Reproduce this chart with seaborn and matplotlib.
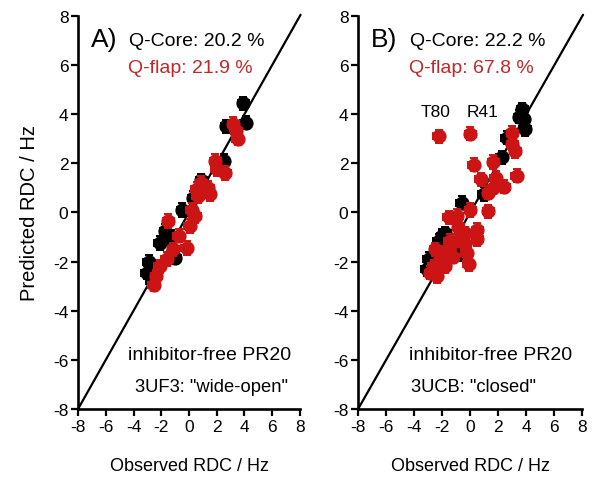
import matplotlib
matplotlib.use("Agg")
import matplotlib.pyplot as plt
import numpy as np
import seaborn as sns

# Panel A: 3UF3 "wide-open"
xA_core = [3.9, 4.1, 2.7, 2.5, 0.9, -0.5, -1.7, -2.1, -1.0, -2.9, -3.05, -2.7, 0.3, -1.3]
yA_core = [4.45, 3.65, 3.5, 2.1, 1.3, 0.1, -0.75, -1.25, -1.85, -2.0, -2.45, -2.8, 0.6, -1.0]
xA_flap = [3.2, 3.4, 3.5, 1.9, 2.0, 2.6, 0.55, 1.4, 0.65, 1.5, 0.2, 0.45, 0.05, -1.5,
           -0.75, -0.15, -1.15, -1.6, -2.1, -2.35, -2.55, 0.9]
yA_flap = [3.6, 3.3, 3.0, 2.1, 1.75, 1.6, 0.95, 1.0, 0.65, 0.75, 0.1, -0.15, -0.55, -0.35,
           -0.95, -1.45, -1.5, -1.9, -2.2, -2.6, -2.95, 1.2]

# Panel B: 3UCB "closed"
xB_core = [3.7, 3.8, 3.9, 2.6, 2.25, 0.95, -0.6, -2.0, -2.95, -3.1, -0.85, -1.8, -2.25, -2.85, 3.5]
yB_core = [4.2, 3.8, 3.4, 3.05, 2.25, 0.75, 0.4, -0.95, -1.9, -2.3, -1.7, -0.85, -1.15, -2.4, 3.9]
xB_flap = [-2.25, 0.0, 3.0, 3.0, 3.2, 3.3, 0.25, 1.65, 0.75, 1.8, 2.4, 1.65, 1.3, 0.0, 1.3,
           -1.55, -0.95, -0.85, -0.35, 0.5, 0.5, -1.45, -0.95, -2.5, -1.55, -0.25, -0.1,
           -2.6, -2.15, -1.8, -2.85, -2.4, -1.2, -1.8, -0.35]
yB_flap = [3.1, 3.2, 3.25, 2.8, 2.5, 1.5, 1.95, 2.05, 1.35, 1.4, 1.05, 1.0, 0.8, 0.1, 0.05,
           -0.2, -0.15, -0.6, -0.85, -0.7, -1.1, -1.15, -1.15, -1.5, -1.5, -1.65, -2.1,
           -2.2, -1.9, -1.85, -2.45, -2.6, -1.8, -2.2, -1.3]

panel_letters = ["A)", "B)"]
q_core = ["Q-Core: 20.2 %", "Q-Core: 22.2 %"]
q_flap = ["Q-flap: 21.9 %", "Q-flap: 67.8 %"]
state_text = ['3UF3: "wide-open"', '3UCB: "closed"']
outliers = [("T80", -2.5, 4.1), ("R41", 0.9, 4.1)]

ticks = [-8, -6, -4, -2, 0, 2, 4, 6, 8]
RED = "#cc1414"
TXT_RED = "#c0282a"

sns.set_style("ticks")
plt.rcParams["font.family"] = ["Liberation Sans", "DejaVu Sans"]
plt.rcParams["axes.unicode_minus"] = False
for k in ["text.color", "axes.labelcolor", "xtick.color", "ytick.color", "axes.edgecolor"]:
    plt.rcParams[k] = "black"

fig = plt.figure(figsize=(6.01, 4.85), dpi=100)
axA = fig.add_axes([0.130, 0.155, 0.369, 0.810])
axB = fig.add_axes([0.596, 0.155, 0.373, 0.810])

data = [(xA_core, yA_core, xA_flap, yA_flap), (xB_core, yB_core, xB_flap, yB_flap)]

for i, (ax, (xc, yc, xf, yf)) in enumerate(zip([axA, axB], data)):
    ax.plot([-8, 8.05], [-8, 8.05], color="black", lw=1.6, clip_on=False, zorder=1)
    for xs, ys, col, z in [(xc, yc, "black", 2), (xf, yf, RED, 4)]:
        ax.errorbar(xs, ys, xerr=0.4, yerr=0.27, fmt="none", ecolor=col,
                    elinewidth=1.4, capsize=3, capthick=1.4, zorder=z)
        sns.scatterplot(x=xs, y=ys, ax=ax, color=col, s=105, linewidth=0,
                        zorder=z + 1, legend=False)

    ax.set_xlim(-8, 8)
    ax.set_ylim(-8, 8)
    ax.set_xticks(ticks)
    ax.set_yticks(ticks)
    ax.tick_params(direction="out", length=5, width=1.6, labelsize=12.5, pad=2)
    for s in ["left", "bottom"]:
        ax.spines[s].set_linewidth(1.9)
    sns.despine(ax=ax)

    ax.text(-7.1, 7.05, panel_letters[i], fontsize=19, ha="left", va="center")
    ax.text(-4.3, 7.0, q_core[i], fontsize=14, ha="left", va="center")
    ax.text(-4.4, 5.9, q_flap[i], fontsize=14, ha="left", va="center", color=TXT_RED)
    ax.text(-4.4, -5.8, "inhibitor-free PR20", fontsize=14, ha="left", va="center")
    ax.text(-3.9 if i == 0 else -4.2, -7.1, state_text[i], fontsize=13.2,
            ha="left", va="center")
    ax.set_xlabel("Observed RDC / Hz", fontsize=13, labelpad=17)

for name, tx, ty in outliers:
    axB.text(tx, ty, name, fontsize=12.5, ha="center", va="center")

axA.set_ylabel("Predicted RDC / Hz", fontsize=14.5, labelpad=10)

fig.savefig("out.png", dpi=100)
